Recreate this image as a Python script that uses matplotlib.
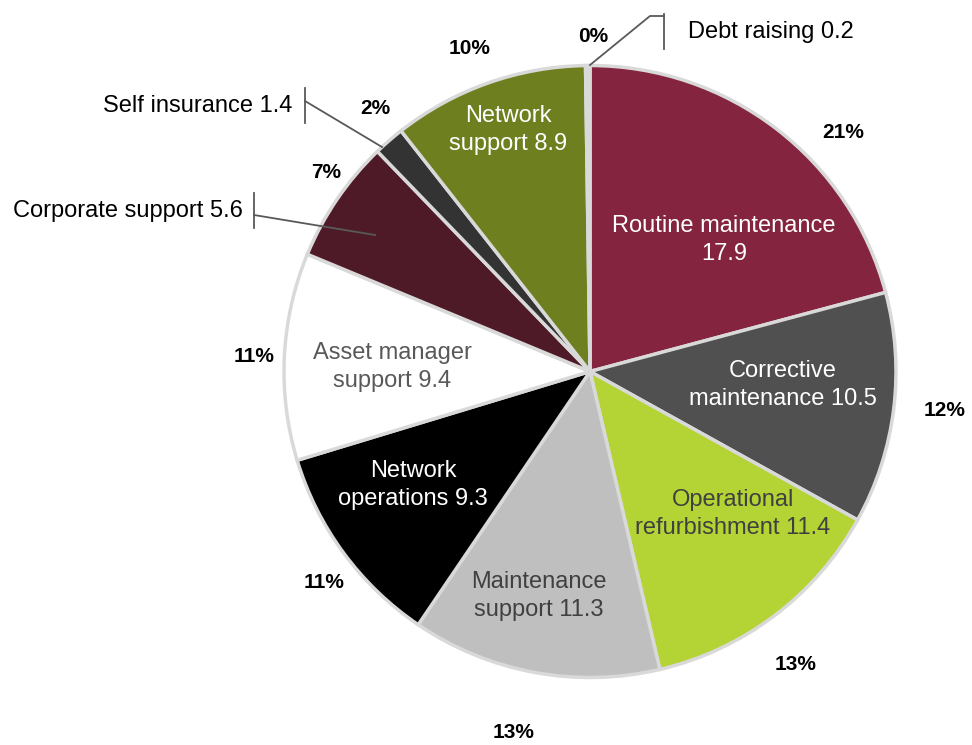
import numpy as np
import matplotlib
matplotlib.use('Agg')
import matplotlib.pyplot as plt

plt.rcParams['font.family'] = ['Liberation Sans', 'DejaVu Sans']

# ---- data ----
categories = ['Routine maintenance', 'Corrective maintenance', 'Operational refurbishment',
              'Maintenance support', 'Network operations', 'Asset manager support',
              'Corporate support', 'Self insurance', 'Network support', 'Debt raising']
values = [17.9, 10.5, 11.4, 11.3, 9.3, 9.4, 5.6, 1.4, 8.9, 0.2]
# how the inside labels break over two lines
label_lines = ['Routine maintenance\n17.9', 'Corrective\nmaintenance 10.5',
               'Operational\nrefurbishment 11.4', 'Maintenance\nsupport 11.3',
               'Network\noperations 9.3', 'Asset manager\nsupport 9.4',
               'Corporate support 5.6', 'Self insurance 1.4',
               'Network\nsupport 8.9', 'Debt raising 0.2']

# ---- styles ----
colors = ['#84243E', '#505050', '#B4D334', '#BFBFBF', '#000000', '#FFFFFF',
          '#4F1A27', '#333333', '#6E7F1F', '#D9D9D9']
text_colors = ['white', 'white', '#404040', '#404040', 'white', '#595959',
               'black', 'black', 'white', 'black']

W, H = 972, 745
fig = plt.figure(figsize=(W / 100, H / 100), dpi=100)
ax = fig.add_axes([0, 0, 1, 1])

cx, cy, R = 590, H - 371.5, 306
wedges, _ = ax.pie(values, colors=colors, startangle=90, counterclock=False,
                   center=(cx, cy), radius=R, frame=True,
                   wedgeprops=dict(edgecolor='#D9D9D9', linewidth=2.5))
ax.set_xlim(0, W)
ax.set_ylim(0, H)
ax.set_aspect('equal')
ax.axis('off')

total = sum(values)
pcts = ['%d%%' % round(v / total * 100) for v in values]

# label placements in pixel coords (x, y from top)
inside_pos = {0: (724, 240), 1: (783, 385), 2: (733, 514), 3: (539, 596),
              4: (413, 485), 5: (392, 367), 8: (508, 130)}
pct_pos = [(843, 133), (945, 411), (796, 664), (514, 733), (324, 583),
           (254, 356), (326, 172), (375, 108), (470, 48), (593, 37)]

for i, (x, y) in inside_pos.items():
    ax.text(x, H - y, label_lines[i], ha='center', va='center', fontsize=17,
            color=text_colors[i], linespacing=1.3)

for i, (x, y) in enumerate(pct_pos):
    ax.text(x, H - y, pcts[i], ha='center', va='center', fontsize=15,
            fontweight='bold', color='black')

# outside labels with leader lines: (text x, text y, ha, bar x, line path)
lc = '#595959'
outside = {
    9: (688, 32, 'left', 664, [(590, 65), (650, 16), (664, 16)]),
    7: (292, 106, 'right', 305, [(382, 147), (305, 101)]),
    6: (243, 211, 'right', 254, [(375, 235), (254, 215)]),
}
for i, (tx, ty, ha, bx, path) in outside.items():
    ax.text(tx, H - ty, label_lines[i], ha=ha, va='center', fontsize=17,
            color='black')
    ax.plot([bx, bx], [H - (ty - 18), H - (ty + 17)], color=lc, lw=1.3)
    px = [p[0] for p in path]
    py = [H - p[1] for p in path]
    ax.plot(px, py, color=lc, lw=1.3)

fig.savefig('out.png', dpi=100)
